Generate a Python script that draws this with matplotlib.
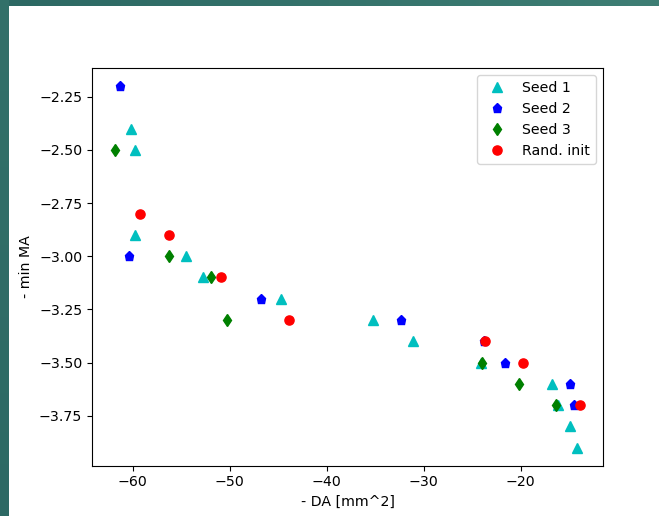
import matplotlib
matplotlib.use('Agg')
import matplotlib.pyplot as plt
import numpy as np

# Pareto points: (- DA, - min MA) for each run
seed1_x = [-60.2, -59.8, -59.8, -54.5, -52.7, -44.7, -35.2, -31.1, -24.1, -16.8, -16.1, -14.9, -14.2]
seed1_y = [-2.4, -2.5, -2.9, -3.0, -3.1, -3.2, -3.3, -3.4, -3.5, -3.6, -3.7, -3.8, -3.9]

seed2_x = [-61.3, -60.4, -46.8, -32.3, -23.8, -21.6, -14.9, -14.5]
seed2_y = [-2.2, -3.0, -3.2, -3.3, -3.4, -3.5, -3.6, -3.7]

seed3_x = [-61.8, -56.3, -51.9, -50.3, -24.0, -20.2, -16.4]
seed3_y = [-2.5, -3.0, -3.1, -3.3, -3.5, -3.6, -3.7]

rand_x = [-59.2, -56.3, -50.9, -43.9, -23.7, -19.8, -13.9]
rand_y = [-2.8, -2.9, -3.1, -3.3, -3.4, -3.5, -3.7]

plt.rcParams['font.size'] = 10.2
plt.rcParams['lines.markersize'] = 6.6

fig = plt.figure(figsize=(6.59, 5.16), dpi=100)

# slide frame: teal bands along the top and left edges
grad = np.linspace(0, 1, 256).reshape(1, -1)
frame = matplotlib.colors.LinearSegmentedColormap.from_list('frame', ['#2c6863', '#3e7e74'])
top = fig.add_axes([0, 1 - 6 / 516, 1, 6 / 516])
top.imshow(grad, aspect='auto', cmap=frame)
top.axis('off')
left = fig.add_axes([0, 0, 9 / 659, 1])
left.imshow(grad.T[::-1], aspect='auto', cmap=frame, vmin=-0.2, vmax=3)
left.axis('off')

ax = fig.add_axes([92 / 659, 1 - 465.7 / 516, (603 - 92) / 659, (465.7 - 68) / 516])
ax.plot(seed1_x, seed1_y, 'c^', label='Seed 1')
ax.plot(seed2_x, seed2_y, 'bp', label='Seed 2')
ax.plot(seed3_x, seed3_y, 'gd', label='Seed 3')
ax.plot(rand_x, rand_y, 'ro', label='Rand. init')

ax.set_xlabel('- DA [mm^2]')
ax.set_ylabel('- min MA')
ax.set_yticks([-2.25, -2.5, -2.75, -3.0, -3.25, -3.5, -3.75])
ax.legend(loc='upper right', numpoints=1)

plt.savefig('out.png', dpi=100)
